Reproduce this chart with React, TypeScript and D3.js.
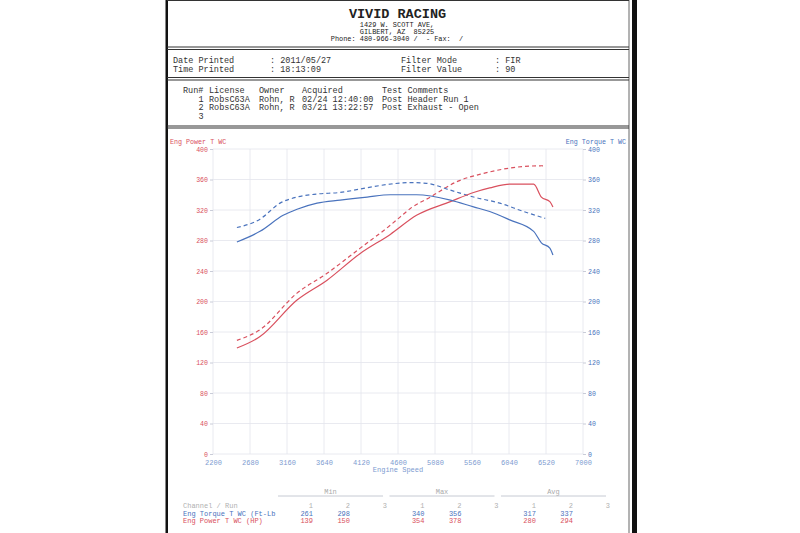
import {useEffect, useRef} from "react";
import * as d3 from "d3";

// run 1 = solid, run 2 = dashed
const torqueRpm1 = [2510, 2810, 3110, 3290, 3550, 3850, 4200, 4500, 4840, 5280, 5580, 5790, 6050, 6360, 6460, 6570, 6610];
const torque1 = [278, 292, 313, 321, 329, 333, 337, 340, 340, 333, 324, 318, 307, 292, 277, 270, 261];
const torqueRpm2 = [2510, 2810, 3070, 3290, 3550, 3850, 4190, 4500, 4760, 4970, 5280, 5580, 5920, 6230, 6510];
const torque2 = [297, 308, 329, 337, 341, 343, 349, 354, 356, 355, 346, 337, 329, 318, 309];
const powerRpm1 = [2510, 2810, 3290, 3680, 4110, 4500, 4840, 5280, 5580, 5790, 6050, 6360, 6460, 6570, 6610];
const power1 = [139, 154, 202, 228, 263, 288, 313, 331, 343, 349, 354, 354, 337, 331, 324];
const powerRpm2 = [2510, 2810, 3290, 3680, 4110, 4500, 4630, 4760, 5020, 5360, 5710, 6050, 6460, 6510];
const power2 = [149, 163, 211, 237, 270, 300, 311, 322, 337, 357, 368, 375, 378, 378];

const rpmTicks = [2200, 2680, 3160, 3640, 4120, 4600, 5080, 5560, 6040, 6520, 7000];
const valueTicks = [0, 40, 80, 120, 160, 200, 240, 280, 320, 360, 400];

const statGroups = ["Min", "Max", "Avg"];
const runLabels = ["1", "2", "3"];
const torqueStats = [[261, 298], [340, 356], [317, 337]];
const powerStats = [[139, 150], [354, 378], [280, 294]];

const runRows = [
    ["1", "RobsC63A", "Rohn, R", "02/24 12:40:00", "Post Header Run 1"],
    ["2", "RobsC63A", "Rohn, R", "03/21 13:22:57", "Post Exhaust - Open"],
    ["3", "", "", "", ""],
];

const RED = "#d9505e";
const BLUE = "#4a73bd";
const GRID = "#e3e5ec";
const MONO = "'Liberation Mono', 'Courier New', monospace";

export default function App() {
    const ref = useRef(null);

    useEffect(() => {
        const svg = d3.select(ref.current);
        svg.selectAll('*').remove();
        svg.style('font-family', MONO);

        svg.append('rect').attr('width', 800).attr('height', 533).attr('fill', 'white');

        // sheet borders
        svg.append('rect').attr('x', 165.5).attr('y', 0).attr('width', 2.5).attr('height', 533).attr('fill', '#111');
        svg.append('line').attr('x1', 629).attr('x2', 629).attr('y1', 0).attr('y2', 533)
            .attr('stroke', '#666').attr('stroke-width', 1);
        svg.append('rect').attr('x', 632).attr('y', 0).attr('width', 5).attr('height', 533).attr('fill', '#111');
        [0.5, 47, 49.5, 77.5, 80, 126, 128].forEach(y => {
            svg.append('line').attr('x1', 167).attr('x2', 629).attr('y1', y).attr('y2', y)
                .attr('stroke', '#333').attr('stroke-width', 1.1);
        });

        // header
        const head = svg.append('g').attr('text-anchor', 'middle').attr('fill', '#222');
        head.append('text').attr('x', 397.5).attr('y', 17.5).attr('font-size', 13.5).attr('font-weight', 'bold')
            .text('VIVID RACING');
        ['1429 W. SCOTT AVE,', 'GILBERT, AZ  85225', 'Phone: 480-966-3040 /  - Fax:  /'].forEach((t, i) => {
            head.append('text').attr('x', 397).attr('y', 27 + i * 6.8).attr('font-size', 6.9)
                .attr('xml:space', 'preserve').text(t);
        });

        // print info
        const info = svg.append('g').attr('font-size', 8.5).attr('fill', '#333');
        [["Date Printed", ": 2011/05/27", "Filter Mode", ": FIR"],
            ["Time Printed", ": 18:13:09", "Filter Value", ": 90"]].forEach((row, i) => {
            [173, 270, 401, 495].forEach((x, j) => {
                info.append('text').attr('x', x).attr('y', 62.5 + i * 9).text(row[j]);
            });
        });

        // runs
        const runs = svg.append('g').attr('font-size', 8.5).attr('fill', '#333');
        const runCols = [209, 259, 302, 382];
        runs.append('text').attr('x', 183).attr('y', 92.5).text('Run#');
        ['License', 'Owner', 'Acquired', 'Test Comments'].forEach((t, j) => {
            runs.append('text').attr('x', runCols[j]).attr('y', 92.5).text(t);
        });
        runRows.forEach((row, i) => {
            const y = 101.5 + i * 8.8;
            runs.append('text').attr('x', 203.5).attr('y', y).attr('text-anchor', 'end').text(row[0]);
            row.slice(1).forEach((t, j) => {
                runs.append('text').attr('x', runCols[j]).attr('y', y).text(t);
            });
        });

        // chart
        const xScale = d3.scaleLinear().domain([2200, 7000]).range([213, 583]);
        const yScale = d3.scaleLinear().domain([0, 400]).range([454, 149]);

        const grid = svg.append('g').attr('stroke', GRID).attr('stroke-width', 0.8);
        rpmTicks.forEach(t => {
            grid.append('line').attr('x1', xScale(t)).attr('x2', xScale(t))
                .attr('y1', yScale(400)).attr('y2', yScale(0));
        });
        valueTicks.forEach(t => {
            grid.append('line').attr('x1', xScale(2200)).attr('x2', xScale(7000))
                .attr('y1', yScale(t)).attr('y2', yScale(t));
        });

        const leftAxis = d3.axisLeft(yScale).tickValues(valueTicks).tickSize(3).tickPadding(2);
        const gl = svg.append('g').attr('transform', `translate(${xScale(2200)},0)`).call(leftAxis);
        gl.select('.domain').remove();
        gl.selectAll('line').attr('stroke', '#c9ccd8');
        gl.selectAll('text').attr('fill', RED).attr('font-size', 6.6).attr('font-family', MONO);

        const rightAxis = d3.axisRight(yScale).tickValues(valueTicks).tickSize(3).tickPadding(2);
        const gr = svg.append('g').attr('transform', `translate(${xScale(7000)},0)`).call(rightAxis);
        gr.select('.domain').remove();
        gr.selectAll('line').attr('stroke', '#c9ccd8');
        gr.selectAll('text').attr('fill', BLUE).attr('font-size', 6.6).attr('font-family', MONO);

        const bottomAxis = d3.axisBottom(xScale).tickValues(rpmTicks).tickSize(0).tickPadding(6).tickFormat(d3.format('d'));
        const gb = svg.append('g').attr('transform', `translate(0,${yScale(0)})`).call(bottomAxis);
        gb.select('.domain').remove();
        gb.selectAll('text').attr('fill', '#7d9bd0').attr('font-size', 7).attr('font-family', MONO);

        svg.append('text').attr('x', 170).attr('y', 144).attr('font-size', 6.7).attr('fill', RED)
            .text('Eng Power T WC');
        svg.append('text').attr('x', 626).attr('y', 144).attr('font-size', 6.7).attr('fill', BLUE)
            .attr('text-anchor', 'end').text('Eng Torque T WC');
        svg.append('text').attr('x', 398).attr('y', 472).attr('font-size', 7).attr('fill', '#7d9bd0')
            .attr('text-anchor', 'middle').text('Engine Speed');

        const line = d3.line().curve(d3.curveMonotoneX).x(d => xScale(d[0])).y(d => yScale(d[1]));
        const series = [
            {rpm: powerRpm2, val: power2, color: RED, dash: '4,3'},
            {rpm: torqueRpm2, val: torque2, color: BLUE, dash: '4,3'},
            {rpm: powerRpm1, val: power1, color: RED, dash: null},
            {rpm: torqueRpm1, val: torque1, color: BLUE, dash: null},
        ];
        series.forEach(s => {
            svg.append('path')
                .datum(s.rpm.map((r, i) => [r, s.val[i]]))
                .attr('d', line)
                .attr('fill', 'none')
                .attr('stroke', s.color)
                .attr('stroke-width', 1.2)
                .attr('stroke-dasharray', s.dash);
        });

        // stats table
        const groupScale = d3.scaleBand().domain(statGroups).range([278, 606]).paddingInner(0.058);
        const runScale = d3.scalePoint().domain(runLabels).range([35, 109]);
        const table = svg.append('g').attr('font-size', 7);
        statGroups.forEach((g, gi) => {
            const x0 = groupScale(g);
            table.append('text').attr('x', x0 + groupScale.bandwidth() / 2).attr('y', 493.5)
                .attr('text-anchor', 'middle').attr('fill', '#aaa').text(g);
            table.append('line').attr('x1', x0).attr('x2', x0 + groupScale.bandwidth())
                .attr('y1', 496).attr('y2', 496).attr('stroke', '#b8bcc8').attr('stroke-width', 0.8);
            runLabels.forEach((r, ri) => {
                const x = x0 + runScale(r);
                table.append('text').attr('x', x).attr('y', 508).attr('text-anchor', 'end')
                    .attr('fill', '#b0b0b0').text(r);
                if (ri < 2) {
                    table.append('text').attr('x', x).attr('y', 515.5).attr('text-anchor', 'end')
                        .attr('fill', BLUE).text(torqueStats[gi][ri]);
                    table.append('text').attr('x', x).attr('y', 523).attr('text-anchor', 'end')
                        .attr('fill', RED).text(powerStats[gi][ri]);
                }
            });
        });
        table.append('text').attr('x', 183).attr('y', 508).attr('fill', '#b0b0b0').text('Channel / Run');
        table.append('text').attr('x', 183).attr('y', 515.5).attr('fill', BLUE).text('Eng Torque T WC (Ft-Lb');
        table.append('text').attr('x', 183).attr('y', 523).attr('fill', RED).text('Eng Power T WC (HP)');
    }, []);

    return <svg ref={ref} width={800} height={533}
                style={{position: 'absolute', left: 0, top: 0, display: 'block'}}></svg>;
}
